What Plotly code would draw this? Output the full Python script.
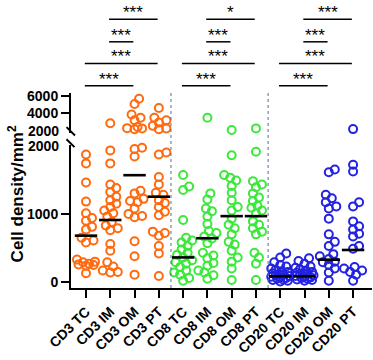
import math
import plotly.graph_objects as go

# ---------------- data ----------------
categories = ["CD3 TC", "CD3 IM", "CD3 OM", "CD3 PT",
              "CD8 TC", "CD8 IM", "CD8 OM", "CD8 PT",
              "CD20 TC", "CD20 IM", "CD20 OM", "CD20 PT"]

cd3_tc = [1870, 1740, 1460, 1180, 1010, 940, 900, 810, 770, 650, 610, 580,
          330, 300, 290, 270, 260, 250, 240, 130]
cd3_im = [2890, 1930, 1740, 1430, 1380, 1320, 1250, 1200, 1150, 1100, 1050, 1010,
          960, 880, 830, 790, 760, 560, 460, 290, 230, 170, 150, 140]
cd3_om = [5670, 5080, 3890, 3520, 3220, 2450, 2330, 2300, 2200,
          1970, 1950, 1840, 1340, 1300, 1220, 1190, 1170, 1080, 1000, 970, 950,
          600, 380, 110]
cd3_pt = [4630, 3520, 3220, 2960, 2590, 2300, 2200,
          1900, 1870, 1540, 1430, 1310, 1280, 1200, 1160, 1100, 1030, 980,
          740, 720, 680, 530, 420, 90]
cd8_tc = [1570, 1400, 1350, 910, 650, 610, 580, 530, 480, 430, 400, 360, 320,
          290, 270, 220, 170, 140, 110, 60, 20]
cd8_im = [3520, 1300, 1210, 1080, 1040, 960, 850, 750, 720, 670, 640, 570, 430,
          390, 350, 280, 240, 170, 140, 100, 50]
cd8_om = [2110, 1860, 1570, 1530, 1490, 1410, 1310, 1200, 1100, 1050, 930, 840,
          790, 700, 590, 550, 460, 360, 300, 200, 30]
cd8_pt = [2300, 1910, 1480, 1430, 1390, 1300, 1240, 1190, 1120, 1090, 1050, 1010,
          890, 840, 790, 740, 700, 430, 360, 270, 30]
cd20_tc = [420, 360, 290, 250, 230, 200, 180, 160, 150, 130, 120, 110, 100, 90,
           80, 70, 60, 50, 40, 30, 20, 10]
cd20_im = [350, 310, 270, 230, 210, 190, 170, 150, 140, 130, 120, 110, 100, 90,
           80, 70, 60, 50, 40, 30, 20]
cd20_om = [1650, 1610, 1280, 1230, 1170, 1110, 1080, 930, 700, 590, 530, 410,
           380, 340, 300, 290, 250, 200, 140, 20]
cd20_pt = [2220, 1720, 1620, 1170, 1110, 890, 820, 770, 710, 670, 530, 490, 220,
           200, 170, 150, 110, 20]

center_lines = [681, 910, 1567, 1252, 362, 643, 967, 967, 86, 86, 329, 471]

comp_left = [0, 0, 1, 1, 4, 4, 5, 5, 8, 8, 9, 9]
comp_right = [2, 3, 2, 3, 6, 7, 6, 7, 10, 11, 10, 11]
comp_level = [1, 2, 3, 4, 1, 2, 3, 4, 1, 2, 3, 4]
comp_label = ["***", "***", "***", "***", "***", "***", "***", "*",
              "***", "***", "***", "***"]

y_low_ticks = [0, 1000]
y_high_ticks = [4000, 6000]
break_value = 2000

# ---------------- styling / layout geometry ----------------
values = [cd3_tc, cd3_im, cd3_om, cd3_pt, cd8_tc, cd8_im, cd8_om, cd8_pt,
          cd20_tc, cd20_im, cd20_om, cd20_pt]
col_orange, col_green, col_blue = "#FF6A0F", "#3BE83B", "#2222E0"
colors = [col_orange] * 4 + [col_green] * 4 + [col_blue] * 4

W, H = 373, 360
L, R, T, B = 71, 1, 93, 67
plot_w = W - L - R
plot_h = H - T - B
bottom_px = H - B

x_first_px = 86.0
cat_px = 24.28
x_range = [-(x_first_px - L) / cat_px, -(x_first_px - L) / cat_px + plot_w / cat_px]

low_dom = [0.0, (bottom_px - 146) / plot_h]
low_range = [-86, 2014]
high_dom = [(bottom_px - 134) / plot_h, 1.0]
high_range = [1778, 6333]

FONT = "Liberation Sans, Arial, Helvetica, sans-serif"


def y_to_px(v):
    if v <= break_value:
        dom, rng = low_dom, low_range
    else:
        dom, rng = high_dom, high_range
    frac = (v - rng[0]) / (rng[1] - rng[0])
    return bottom_px - (dom[0] + frac * (dom[1] - dom[0])) * plot_h


def px_x(px):
    return (px - L) / plot_w


def px_y(py):
    return (bottom_px - py) / plot_h


def swarm(vals, min_d=6.5, step=1.5, max_off=10.0):
    placed = []
    offs = [0.0] * len(vals)
    cands = [0.0]
    k = 1
    while k * step <= max_off:
        cands += [k * step, -k * step]
        k += 1
    order = sorted(range(len(vals)), key=lambda i: vals[i])
    for idx in order:
        yp = y_to_px(vals[idx])
        best, bestd = 0.0, -1.0
        for c in cands:
            d = min([math.hypot(c - a, yp - b) for a, b in placed] or [1e9])
            if d >= min_d:
                best = c
                break
            if d > bestd:
                bestd, best = d, c
        placed.append((best, yp))
        offs[idx] = best / cat_px
    return offs


fig = go.Figure()

for i, (name, vals) in enumerate(zip(categories, values)):
    offs = swarm(vals)
    xs_lo = [i + o for v, o in zip(vals, offs) if v <= break_value]
    ys_lo = [v for v in vals if v <= break_value]
    xs_hi = [i + o for v, o in zip(vals, offs) if v > break_value]
    ys_hi = [v for v in vals if v > break_value]
    mk = dict(symbol="circle-open", size=8, color=colors[i],
              line=dict(width=2, color=colors[i]))
    fig.add_trace(go.Scatter(x=xs_lo, y=ys_lo, mode="markers", marker=mk,
                             xaxis="x", yaxis="y", cliponaxis=False,
                             showlegend=False, name=name))
    if ys_hi:
        fig.add_trace(go.Scatter(x=xs_hi, y=ys_hi, mode="markers", marker=mk,
                                 xaxis="x", yaxis="y2", cliponaxis=False,
                                 showlegend=False, name=name))

# centre (mean) lines
fig.add_trace(go.Scatter(
    x=list(range(len(categories))), y=center_lines, mode="markers",
    marker=dict(symbol="line-ew", size=16, color="black",
                line=dict(width=2.6, color="black")),
    xaxis="x", yaxis="y", cliponaxis=False, showlegend=False))

shapes = []
annotations = []

# dotted separators between marker groups
for xs in [3.5, 7.5]:
    shapes.append(dict(type="line", xref="x", yref="paper", x0=xs, x1=xs,
                       y0=0, y1=1, line=dict(color="#5A6E96", width=1, dash="dot")))

# break slashes on y axis
for (ax0, ay0, ax1, ay1) in [(66.5, 128.0, 75.0, 136.5), (66.5, 140.5, 74.5, 148.5)]:
    shapes.append(dict(type="line", xref="paper", yref="paper",
                       x0=px_x(ax0), y0=px_y(ay0), x1=px_x(ax1), y1=px_y(ay1),
                       line=dict(color="black", width=2)))

# significance brackets
level_px = {1: 85.5, 2: 62.8, 3: 40.5, 4: 17.3}
for a, b, lev, lab in zip(comp_left, comp_right, comp_level, comp_label):
    yl = level_px[lev]
    shapes.append(dict(type="line", xref="x", yref="paper",
                       x0=a - 0.05, x1=b - 0.05, y0=px_y(yl), y1=px_y(yl),
                       line=dict(color="black", width=1.5)))
    annotations.append(dict(text=lab, xref="x", yref="paper",
                            x=(a + b) / 2 - 0.05, y=px_y(yl + 5),
                            xanchor="center", yanchor="bottom", showarrow=False,
                            font=dict(family=FONT, size=17, color="black")))

# "2000" labels at the break
for py in [132.0, 147.0]:
    annotations.append(dict(text="<b>2000</b>", xref="paper", yref="paper",
                            x=px_x(60.5), y=px_y(py), xanchor="right", yanchor="middle",
                            showarrow=False,
                            font=dict(family=FONT, size=14, color="black")))

# y-axis title
annotations.append(dict(text="<b>Cell density/mm<sup>2</sup></b>", xref="paper",
                        yref="paper", x=px_x(16), y=px_y(197), textangle=-90,
                        xanchor="center", yanchor="middle", showarrow=False,
                        font=dict(family=FONT, size=17, color="black")))

fig.update_layout(
    width=W, height=H,
    margin=dict(l=L, r=R, t=T, b=B, pad=0),
    paper_bgcolor="white", plot_bgcolor="white",
    showlegend=False,
    font=dict(family=FONT, color="black"),
    xaxis=dict(range=x_range, tickmode="array",
               tickvals=list(range(len(categories))), ticktext=categories,
               tickangle=-45, ticks="outside", ticklen=8, tickwidth=2,
               tickcolor="black", showline=True, linewidth=2, linecolor="black",
               showgrid=False, zeroline=False, anchor="y",
               tickfont=dict(family=FONT, size=14, color="black", weight="bold")),
    yaxis=dict(domain=low_dom, range=low_range, tickmode="array",
               tickvals=y_low_ticks, ticktext=[str(t) for t in y_low_ticks],
               ticks="outside", ticklen=8, tickwidth=2, tickcolor="black",
               showline=True, linewidth=2, linecolor="black", showgrid=False,
               zeroline=False, anchor="x",
               tickfont=dict(family=FONT, size=14, color="black", weight="bold")),
    yaxis2=dict(domain=high_dom, range=high_range, tickmode="array",
                tickvals=y_high_ticks, ticktext=[str(t) for t in y_high_ticks],
                ticks="outside", ticklen=8, tickwidth=2, tickcolor="black",
                showline=True, linewidth=2, linecolor="black", showgrid=False,
                zeroline=False, anchor="x",
                tickfont=dict(family=FONT, size=14, color="black", weight="bold")),
    shapes=shapes,
    annotations=annotations,
)

fig.write_html("out.html",
               config={"displayModeBar": False, "staticPlot": True},
               post_script="document.body.style.margin='0px';document.body.style.overflow='hidden';")
